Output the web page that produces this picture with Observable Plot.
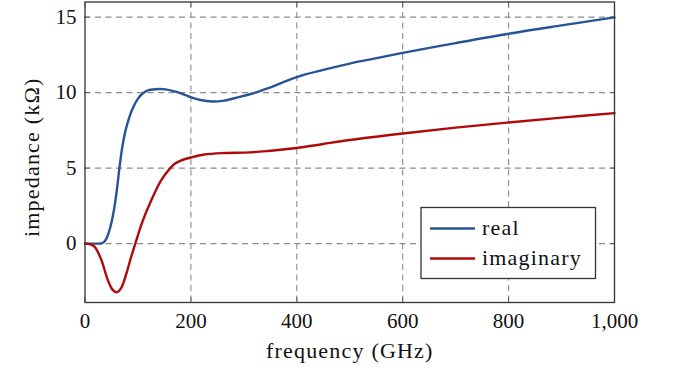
<!DOCTYPE html>
<html>
<head>
<meta charset="utf-8">
<script src="https://cdn.jsdelivr.net/npm/d3@7"></script>
<script src="https://cdn.jsdelivr.net/npm/@observablehq/plot@0.6"></script>
<style>
  html, body { margin: 0; padding: 0; background: #fff; }
  #wrap { position: relative; width: 676px; height: 379px; }
  #wrap svg text { font-family: 'Liberation Serif', 'DejaVu Serif', serif; }
  #wrap svg .word { letter-spacing: 1.2px; }
</style>
</head>
<body>
<div id="wrap"></div>
<script>
// frequency sweep (GHz) and impedance (kΩ)
const realFreq = [0, 20, 30, 35, 40, 45, 50, 55, 60, 65, 70, 75, 80, 90, 100, 110, 120, 140, 152, 171, 190, 200, 218, 240, 263, 290, 322, 350, 400, 450, 500, 539, 600, 700, 800, 900, 1000];
const realZ    = [0, 0, 0.01, 0.08, 0.3, 0.75, 1.4, 2.3, 3.5, 5.0, 6.3, 7.25, 7.95, 8.95, 9.6, 9.97, 10.16, 10.24, 10.21, 10.06, 9.83, 9.7, 9.51, 9.41, 9.47, 9.7, 10.0, 10.35, 11.03, 11.5, 11.92, 12.2, 12.63, 13.28, 13.9, 14.45, 14.98];

const imagFreq = [0, 10, 18, 30, 43, 52, 60, 68, 78, 87, 95, 109, 125, 144, 161, 170, 181, 200, 225, 263, 312, 350, 400, 450, 500, 600, 700, 800, 900, 1000];
const imagZ    = [0, -0.05, -0.2, -1.0, -2.4, -3.05, -3.23, -2.97, -2.0, -0.9, 0, 1.5, 2.85, 4.2, 5.0, 5.3, 5.5, 5.7, 5.9, 6.0, 6.04, 6.15, 6.33, 6.6, 6.86, 7.29, 7.68, 8.02, 8.34, 8.64];

const seriesNames = ["real", "imaginary"];
const seriesColors = ["#285495", "#ae0a0a"];

const xTicks = [0, 200, 400, 600, 800, 1000];
const yTicks = [0, 5, 10, 15];

const xLabel = "frequency (GHz)";
const yLabel = "impedance (kΩ)";

const realData = realFreq.map((f, i) => ({f, z: realZ[i]}));
const imagData = imagFreq.map((f, i) => ({f, z: imagZ[i]}));

const serif = "'Liberation Serif', 'DejaVu Serif', serif";
const gridStyle = {stroke: "#8c8c8c", strokeOpacity: 1, strokeWidth: 1.1, strokeDasharray: "6,4.5"};

const chart = Plot.plot({
  width: 676,
  height: 379,
  marginLeft: 84.5,
  marginRight: 62,
  marginTop: 1.5,
  marginBottom: 77,
  style: {fontFamily: serif, fontSize: "21px", color: "#111", background: "#fff"},
  x: {domain: [0, 1000]},
  y: {domain: [-3.9, 16]},
  marks: [
    Plot.gridX(xTicks.slice(1, -1), gridStyle),
    Plot.gridY(yTicks, gridStyle),
    // inward ticks on all four sides
    Plot.axisX(xTicks, {anchor: "bottom", tickSize: -5, text: null, label: null, stroke: "#666"}),
    Plot.axisX(xTicks, {anchor: "top", tickSize: -5, text: null, label: null, stroke: "#666"}),
    Plot.axisY(yTicks, {anchor: "left", tickSize: -5, text: null, label: null, stroke: "#666"}),
    Plot.axisY(yTicks, {anchor: "right", tickSize: -5, text: null, label: null, stroke: "#666"}),
    // tick labels
    Plot.axisX(xTicks, {anchor: "bottom", tickSize: 0, tickPadding: 11, label: null, fill: "#111", fontSize: 21}),
    Plot.axisY(yTicks, {anchor: "left", tickSize: 0, tickPadding: 8.5, label: null, fill: "#111", fontSize: 21}),
    Plot.line(realData, {x: "f", y: "z", stroke: seriesColors[0], strokeWidth: 2.4, curve: "catmull-rom"}),
    Plot.line(imagData, {x: "f", y: "z", stroke: seriesColors[1], strokeWidth: 2.4, curve: "catmull-rom"}),
    Plot.frame({stroke: "#333", strokeWidth: 1.3}),
    Plot.text([xLabel], {frameAnchor: "bottom", dy: 55, fill: "#111", fontSize: 22, className: "word"}),
    Plot.text([yLabel], {frameAnchor: "left", textAnchor: "middle", rotate: -90, dx: -53, dy: 5, fill: "#111", fontSize: 22, className: "word"})
  ]
});

const wrap = document.getElementById("wrap");
wrap.appendChild(chart);

// legend box, lower right inside the frame
const svg = d3.select(chart);
const lg = svg.append("g").attr("class", "word")
  .attr("font-size", 22).attr("fill", "#111").attr("text-anchor", "start");
lg.append("rect")
  .attr("x", 421).attr("y", 207.5).attr("width", 174.5).attr("height", 71)
  .attr("fill", "#fff").attr("stroke", "#333").attr("stroke-width", 1.3);
seriesNames.forEach((name, i) => {
  const cy = 228.5 + i * 30;
  lg.append("line")
    .attr("x1", 430).attr("x2", 475).attr("y1", cy).attr("y2", cy)
    .attr("stroke", seriesColors[i]).attr("stroke-width", 2.4);
  lg.append("text")
    .attr("x", 482).attr("y", cy + 6.5)
    .attr("text-anchor", "start")
    .text(name);
});
</script>
</body>
</html>
